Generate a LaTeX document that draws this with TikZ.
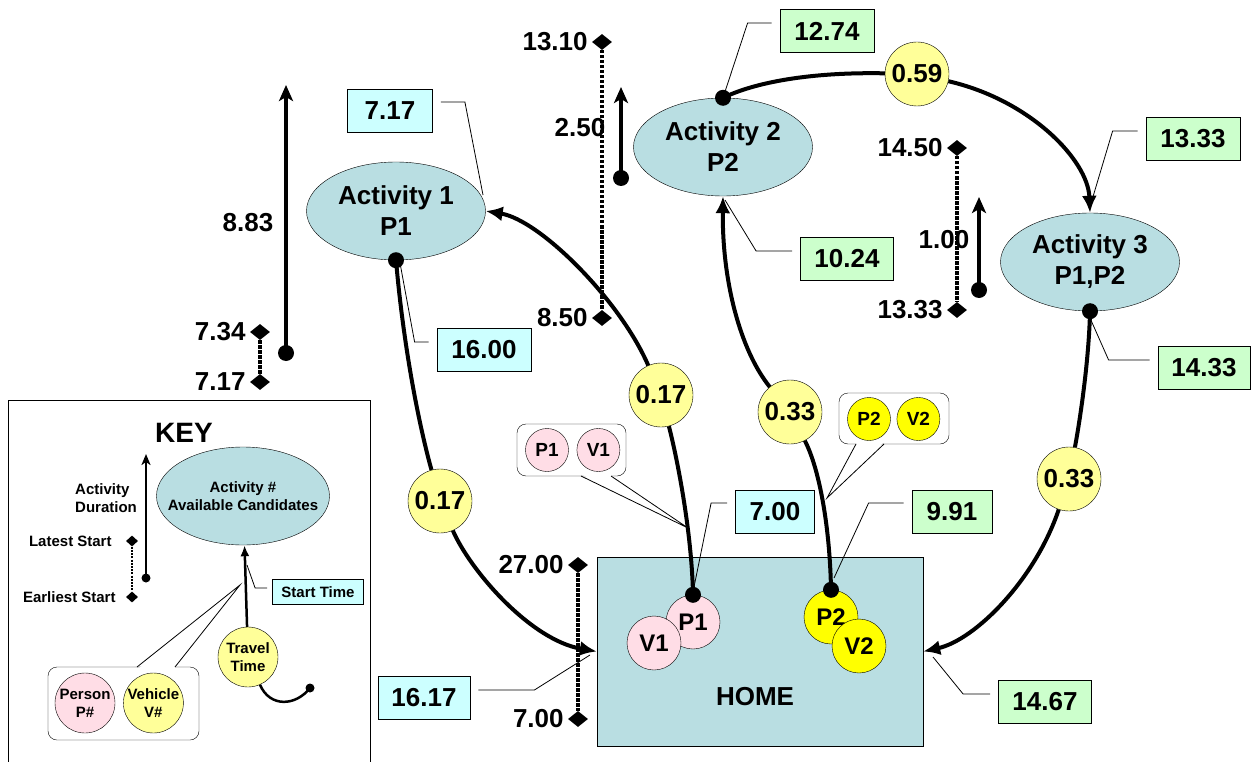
\documentclass[tikz,border=0pt]{standalone}
\usepackage{fontspec}
\setmainfont{Liberation Sans}
\usetikzlibrary{arrows.meta,positioning,shapes.geometric}

\definecolor{actfill}{RGB}{185,222,226}
\definecolor{ponefill}{RGB}{204,255,255}
\definecolor{ptwofill}{RGB}{204,255,204}
\definecolor{travelfill}{RGB}{255,255,153}
\definecolor{personfill}{RGB}{255,221,230}
\definecolor{carfill}{RGB}{255,255,0}

\begin{document}
\begin{tikzpicture}[
        x=1pt, y=-1pt,
        >=Latex,
        every node/.style={font=\fontsize{26}{31}\selectfont\bfseries, align=center, inner sep=0pt},
        label distance=4pt,
        small/.style={font=\fontsize{15}{18}\selectfont\bfseries},
        activity/.style={ellipse, draw, fill=actfill, minimum width=179pt, minimum height=98pt},
        travel/.style={circle, draw, fill=travelfill, minimum size=64pt},
        timebox/.style={rectangle, draw, line width=0.8pt, minimum height=43pt, minimum width=93pt},
        ponetime/.style={timebox, fill=ponefill},
        ptwotime/.style={timebox, fill=ptwofill},
        member/.style={circle, draw, minimum size=54pt, font=\fontsize{24}{28}\selectfont\bfseries},
        tag/.style={circle, draw, minimum size=43pt, font=\fontsize{19}{22}\selectfont\bfseries},
        bubble/.style={draw, rounded corners=9pt, fill=white},
        window/.style={diamond, fill, minimum width=20pt, minimum height=16pt},
        tour/.style={line width=4pt},
        trip/.style={tour, -{Latex[length=17pt,width=15pt]}},
        slack/.style={line width=4pt, dash pattern=on 3.3pt off 1.7pt},
        stay/.style={line width=3.6pt, -{Stealth[length=16pt,width=14pt,inset=4pt]}},
        leader/.style={line width=0.8pt, shorten <=8pt}
    ]
        \useasboundingbox (0,0) rectangle (1252,762);

        % key
        \draw[line width=1pt] (8,770) -- (8,400) -- (370,400) -- (370,770);
        \node[font=\fontsize{28}{32}\selectfont\bfseries] (keytitle) at (184,433) {KEY};
        \node[activity, small, minimum width=173pt, inner xsep=-16pt] (kact) at (243,496) {Activity \#\\Available Candidates};
        \coordinate (kdurtop) at (146,454);
        \coordinate (kdurbot) at (146,578);
        \draw[line width=2.5pt, -{Stealth[length=11pt,width=9pt,inset=3pt]}] (kdurbot) -- (kdurtop);
        \fill (kdurbot) circle (4.5pt);
        \node[small, anchor=west, align=left] (kdurtxt) at (75,498) {Activity\\Duration};
        \node[window, minimum width=12pt, minimum height=11pt, label={[small, label distance=14pt]left:Latest Start}] (klate) at (132,541) {};
        \node[window, minimum width=12pt, minimum height=11pt, label={[small, label distance=10pt]left:Earliest Start}] (kearly) at (132,597) {};
        \draw[line width=2.5pt, dash pattern=on 2pt off 1.2pt] (klate) -- (kearly);
        \node[travel, small, minimum size=60pt] (ktravel) at (248,657) {Travel\\Time};
        \draw[line width=2.5pt, -{Latex[length=11pt,width=9pt]}] (ktravel) -- (kact);
        \coordinate (ktail) at (310,688);
        \draw[line width=2.5pt] (ktravel) .. controls (270,708) and (296,706) .. (ktail);
        \fill (ktail) circle (4.5pt);
        \node[ponetime, small, minimum width=91pt, minimum height=25pt] (kstart) at (318,592) {Start Time};
        \coordinate (kstartend) at (247,565);
        \draw[leader, shorten <=5pt] ([yshift=4pt]kstart.west) -- ++(-17,0) -- (kstartend);
        \node[bubble, minimum width=151pt, minimum height=73pt] (kcrew) at (123.5,703.5) {};
        \node[tag, small, minimum size=60pt, fill=personfill] (kperson) at (85,703) {Person\\P\#};
        \node[tag, small, minimum size=60pt, fill=travelfill, right=8pt of kperson] (kvehicle) {Vehicle\\V\#};
        \coordinate (kpa) at (137,667);
        \coordinate (kpb) at (175,667);
        \coordinate (kptip) at (240,585);
        \fill[white] (138,669) -- (kptip) -- (174,669) -- cycle;
        \draw[line width=0.8pt] (kpa) -- (kptip) -- (kpb);

        % activities and home
        \node[activity] (act1) at (396,211) {Activity 1\\P1};
        \node[activity] (act2) at (723,147) {Activity 2\\P2};
        \node[activity] (act3) at (1090,262) {Activity 3\\P1,P2};
        \node[draw, fill=actfill, minimum width=326pt, minimum height=189pt] (home) at (760,651.5) {};
        \node (hometxt) at (755,697) {HOME};
        \node[member, fill=personfill] (homep1) at (693,622) {P1};
        \node[member, fill=personfill] (homev1) at (654,643) {V1};
        \node[member, fill=carfill] (homep2) at (831,617) {P2};
        \node[member, fill=carfill] (homev2) at (859,646) {V2};

        % travel legs
        \node[travel] (tt1) at (440,501) {0.17};
        \node[travel] (tt2) at (661,395) {0.17};
        \node[travel] (tt3) at (790,412) {0.33};
        \node[travel] (tt4) at (917,74) {0.59};
        \node[travel] (tt5) at (1069,479) {0.33};

        \draw[tour] (act1.south) .. controls (402,330) and (415,410) .. (tt1);
        \draw[trip] (tt1) .. controls (470,570) and (530,640) .. (home.west);
        \draw[tour] (homep1.north) .. controls (692,540) and (680,470) .. (tt2);
        \draw[trip] (tt2) .. controls (620,300) and (540,220) .. (act1.east);
        \draw[tour] (homep2.north) .. controls (830,530) and (820,470) .. (tt3);
        \draw[trip] (tt3) .. controls (740,350) and (722,280) .. (act2.south);
        \draw[tour] (act2.north) .. controls (760,80) and (820,72) .. (tt4);
        \draw[trip] (tt4) .. controls (1030,100) and (1088,160) .. (act3.north);
        \draw[tour] (act3.south) .. controls (1089,360) and (1080,420) .. (tt5);
        \draw[trip] (tt5) .. controls (1035,580) and (975,640) .. (home.east);
        \foreach \p in {act1.south, homep1.north, homep2.north, act2.north, act3.south}
            \fill (\p) circle (8pt);

        % crews
        \node[bubble, minimum width=109pt, minimum height=52pt] (crew1) at (571.5,450) {};
        \node[tag, fill=personfill] (crewp1) at (547,450) {P1};
        \node[tag, fill=personfill, right=8pt of crewp1] (crewv1) {V1};
        \coordinate (c1a) at (581,476);
        \coordinate (c1b) at (611,476);
        \coordinate (c1tip) at (688,528);
        \fill[white] (582,474.5) -- (c1tip) -- (610,474.5) -- cycle;
        \draw[line width=0.8pt] (c1a) -- (c1tip) -- (c1b);
        \node[bubble, minimum width=110pt, minimum height=51pt] (crew2) at (894,418.5) {};
        \node[tag, fill=carfill] (crewp2) at (869,419) {P2};
        \node[tag, fill=carfill, right=6pt of crewp2] (crewv2) {V2};
        \coordinate (c2a) at (856,444);
        \coordinate (c2b) at (884,444);
        \coordinate (c2tip) at (827,498);
        \fill[white] (857,442.5) -- (c2tip) -- (883,442.5) -- cycle;
        \draw[line width=0.8pt] (c2a) -- (c2tip) -- (c2b);

        % durations
        \coordinate (d1top) at (286,85);
        \coordinate (d1bot) at (286,353);
        \draw[stay] (d1bot) -- (d1top);
        \fill (d1bot) circle (8pt);
        \node (d1txt) at (248,223) {8.83};
        \coordinate (d2top) at (621,87);
        \coordinate (d2bot) at (621,178);
        \draw[stay] (d2bot) -- (d2top);
        \fill (d2bot) circle (8pt);
        \node (d2txt) at (580,128) {2.50};
        \coordinate (d3top) at (979,197);
        \coordinate (d3bot) at (979,290);
        \draw[stay] (d3bot) -- (d3top);
        \fill (d3bot) circle (8pt);
        \node (d3txt) at (944,240) {1.00};

        % time windows
        \node[window, label=left:7.34] (w1late) at (260,332) {};
        \node[window, label=left:7.17] (w1early) at (260,382) {};
        \draw[slack] (w1late) -- (w1early);
        \node[window, label=left:13.10] (w2late) at (602,42) {};
        \node[window, label=left:8.50] (w2early) at (602,318) {};
        \draw[slack] (w2late) -- (w2early);
        \node[window, label=left:14.50] (w3late) at (957,148) {};
        \node[window, label=left:13.33] (w3early) at (957,310) {};
        \draw[slack] (w3late) -- (w3early);
        \node[window, label=left:27.00] (whlate) at (578,565) {};
        \node[window, label=left:7.00] (whearly) at (578,719) {};
        \draw[slack] (whlate) -- (whearly);

        % start times
        \node[ponetime, minimum width=85pt] (s717) at (390,111) {7.17};
        \node[ponetime, minimum width=94pt] (s1600) at (484,350) {16.00};
        \node[ponetime, minimum width=79pt] (s700) at (775,512) {7.00};
        \node[ponetime, minimum width=92pt] (s1617) at (424,698) {16.17};
        \node[ptwotime, minimum width=94pt] (s1274) at (827,31) {12.74};
        \node[ptwotime, minimum width=94pt] (s1333) at (1193,139) {13.33};
        \node[ptwotime] (s1024) at (847,259) {10.24};
        \node[ptwotime, minimum width=92pt] (s1433) at (1204,368) {14.33};
        \node[ptwotime, minimum width=80pt] (s991) at (952,512) {9.91};
        \node[ptwotime] (s1467) at (1045,702) {14.67};

        \coordinate (e717) at (483,195);
        \coordinate (e1600) at (400,263);
        \coordinate (e700) at (694,587);
        \coordinate (e1617) at (590,655);
        \coordinate (e1333) at (1092,200);
        \coordinate (e1024) at (725,200);
        \coordinate (e1433) at (1090,318);
        \coordinate (e991) at (834,578);
        \coordinate (e1467) at (933,657);
        \draw[leader] ([yshift=9pt]s717.east) -- ++(32,0) -- (e717);
        \draw[leader] ([yshift=8pt]s1600.west) -- ++(-22,0) -- (e1600);
        \draw[leader] ([yshift=9pt]s700.west) -- ++(-24,0) -- (e700);
        \draw[leader] ([yshift=8pt]s1617.east) -- ++(64,0) -- (e1617);
        \draw[leader] ([yshift=8pt]s1274.west) -- ++(-32,0) -- (act2.north);
        \draw[leader] ([yshift=8pt]s1333.west) -- ++(-33,0) -- (e1333);
        \draw[leader] ([yshift=8pt]s1024.west) -- ++(-44,0) -- (e1024);
        \draw[leader] ([yshift=8pt]s1433.west) -- ++(-49,0) -- (e1433);
        \draw[leader] ([yshift=9pt]s991.west) -- ++(-43,0) -- (e991);
        \draw[leader] ([yshift=8pt]s1467.west) -- ++(-35,0) -- (e1467);
    \end{tikzpicture}
\end{document}
